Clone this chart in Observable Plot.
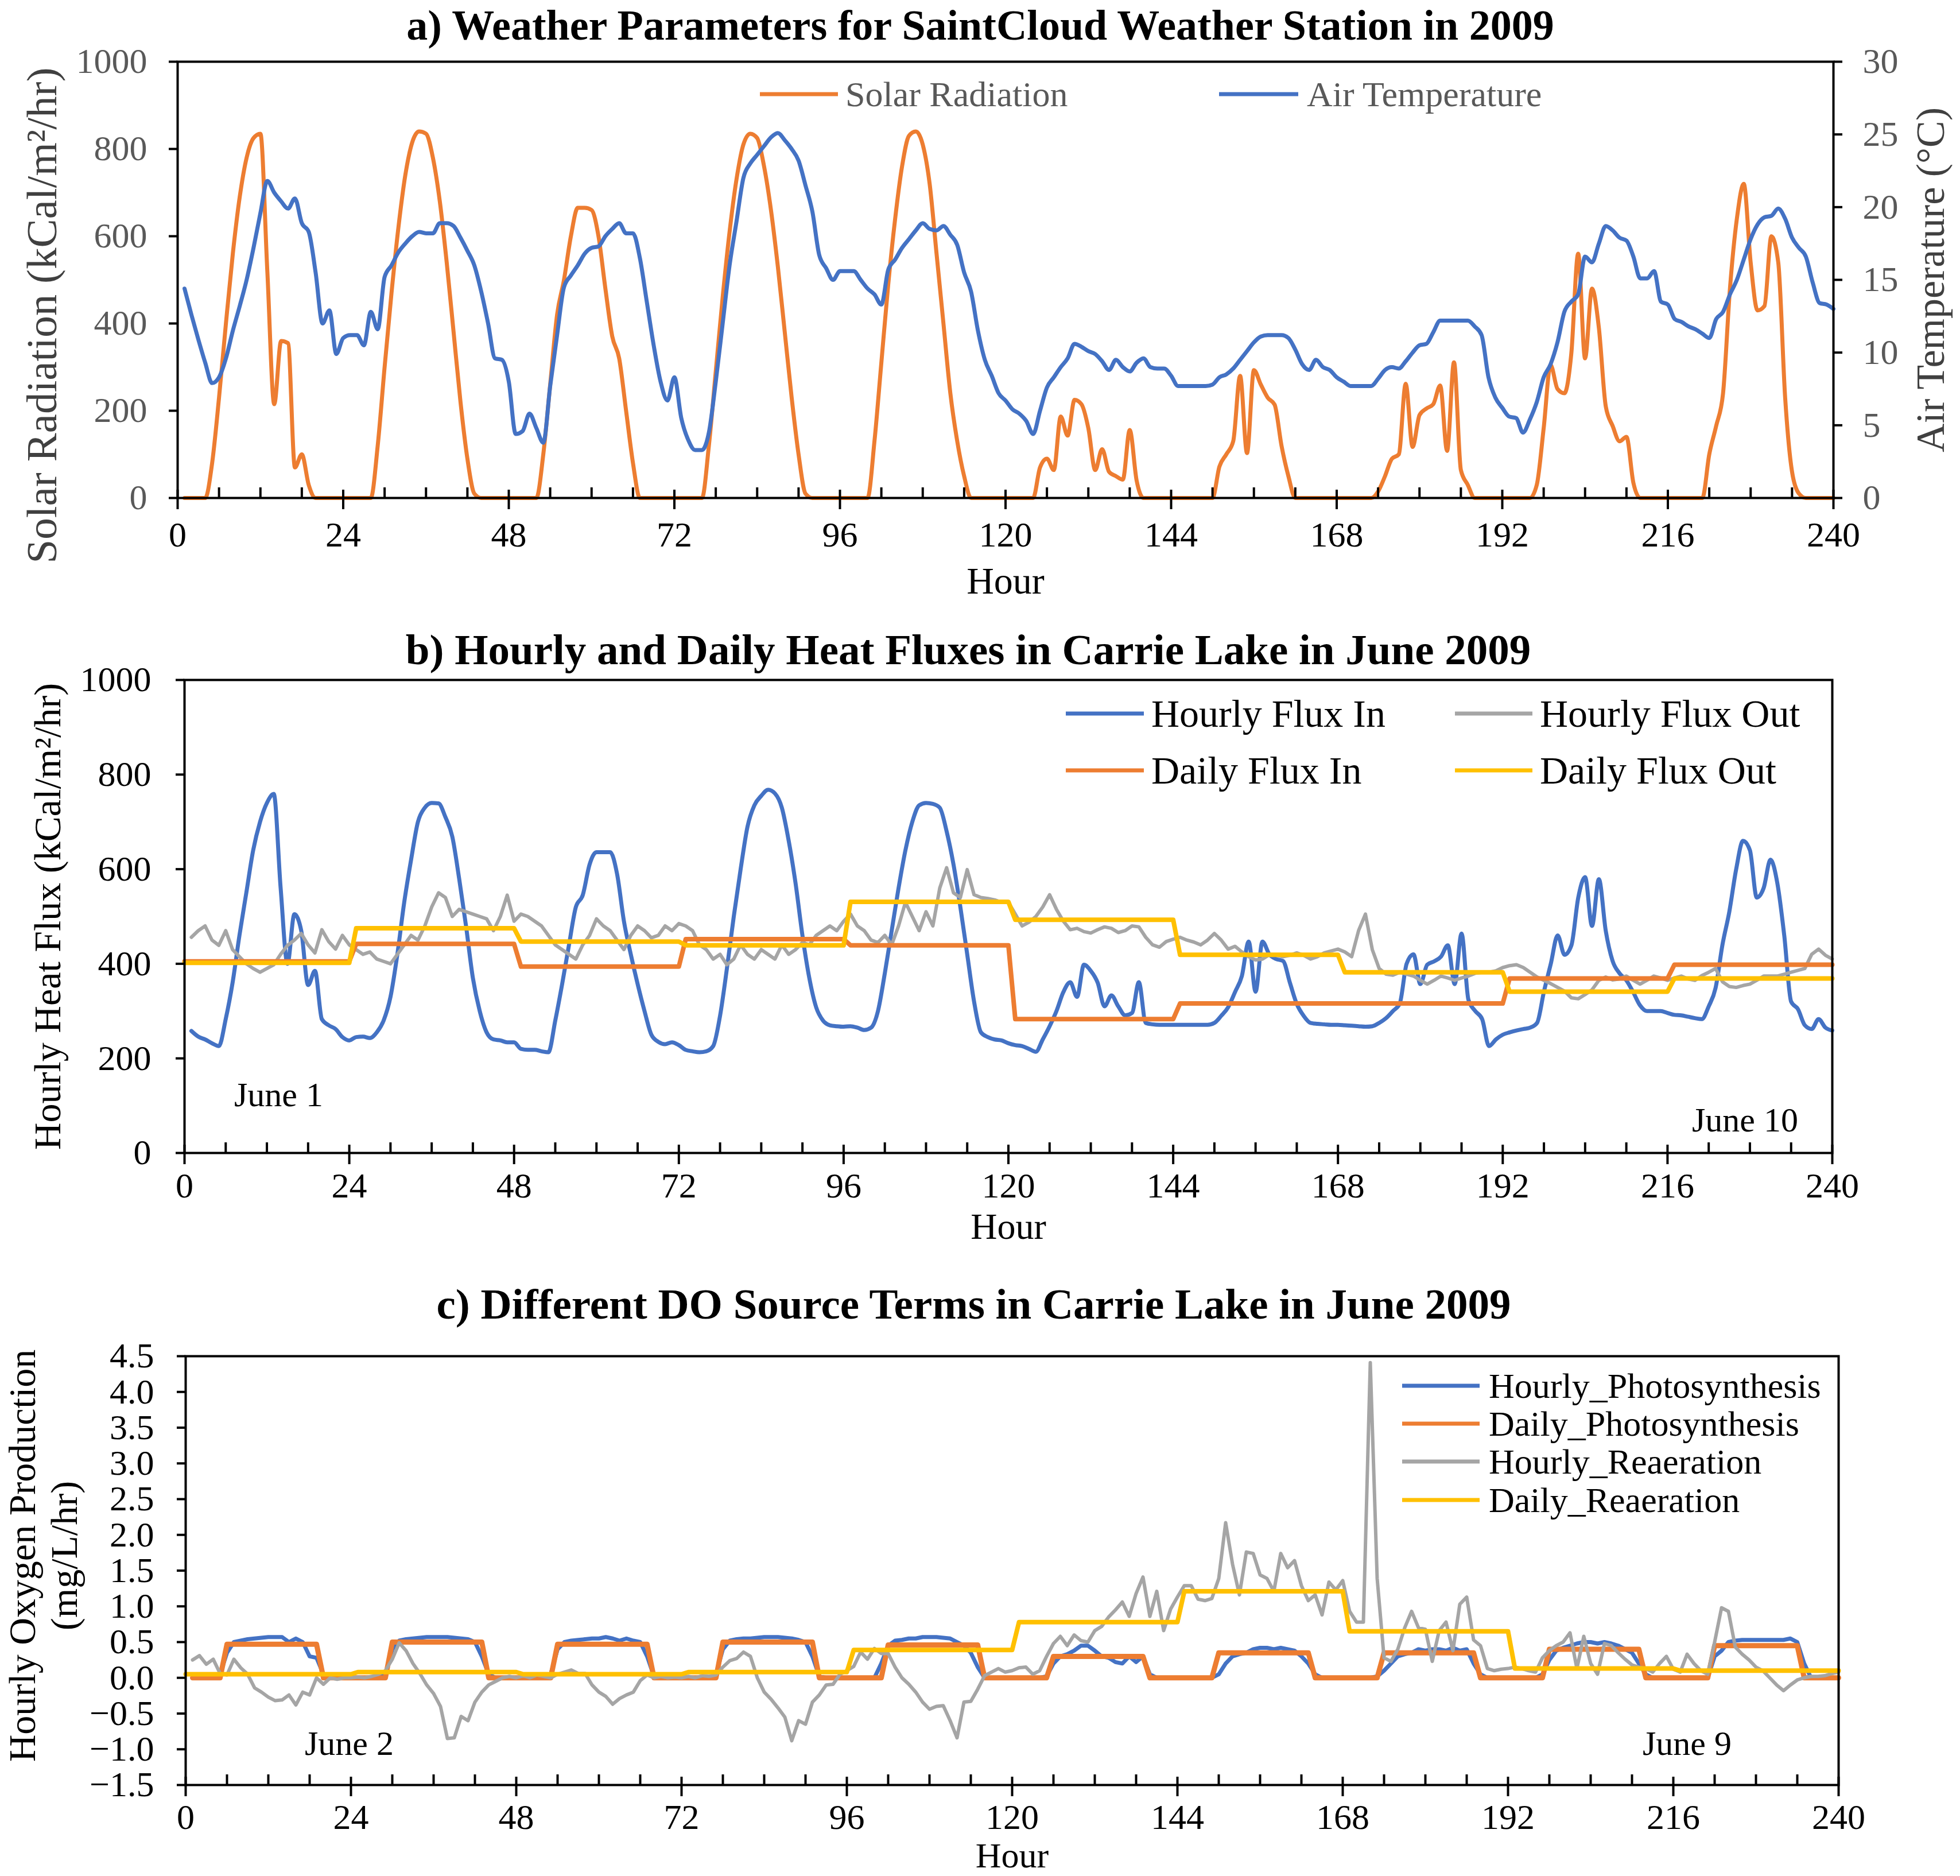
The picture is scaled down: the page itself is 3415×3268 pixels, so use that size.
<!DOCTYPE html>
<html><head><meta charset="utf-8">
<script src="https://cdn.jsdelivr.net/npm/d3@7"></script>
<script src="https://cdn.jsdelivr.net/npm/@observablehq/plot@0.6"></script>
<style>
body{margin:0;background:#fff;}
#root{position:relative;width:3415px;height:3268px;background:#fff;overflow:hidden;font-family:'Liberation Serif','Times New Roman',serif;}
.lbl{position:absolute;white-space:nowrap;line-height:1;transform:translateY(-50%);}
.sw{position:absolute;height:7px;transform:translateY(-50%);}
</style></head><body><div id="root"></div>
<script>
// ---------- DATA ----------
const hours = d3.range(1, 241);
const hourTicks = d3.range(0, 241, 24);
const minorHourTicks = d3.range(0, 241, 6).filter(h => h % 24 !== 0);

// Panel a
const solarTicks = [0, 200, 400, 600, 800, 1000];
const tempTicks = [0, 5, 10, 15, 20, 25, 30];
const solarRadiation = [
0,0,0,0,80,230,400,560,690,780,825,835,520,215,360,355,70,100,30,0,0,0,0,0,
0,0,0,0,120,300,470,620,740,815,840,835,780,680,540,380,220,90,10,0,0,0,0,0,
0,0,0,0,100,260,420,500,600,665,665,660,600,480,370,320,200,80,0,0,0,0,0,0,
0,0,0,0,120,290,460,610,730,810,835,825,760,660,530,380,230,100,10,0,0,0,0,0,
0,0,0,0,130,310,490,640,760,830,840,810,720,560,400,240,130,50,0,0,0,0,0,0,
0,0,0,0,70,90,64,187,143,225,215,160,64,112,60,50,42,156,40,0,0,0,0,0,
0,0,0,0,0,0,72,100,130,280,103,293,260,230,214,120,50,0,0,0,0,0,0,0,
0,0,0,0,0,15,50,90,100,262,117,190,205,215,258,108,311,64,30,0,0,0,0,0,
0,0,0,0,30,160,305,250,240,330,560,320,480,390,210,165,130,140,35,0,0,0,0,0,
0,0,0,0,0,100,165,240,480,640,720,540,430,440,600,540,230,60,10,0,0,0,0,0];
const airTemperature = [
14.4,12.6,10.9,9.3,7.9,8.3,9.6,11.5,13.2,15.0,17.2,19.6,21.8,21.0,20.4,19.9,20.6,18.9,18.3,15.5,12.0,12.9,9.9,11.0,
11.2,11.2,10.5,12.8,11.6,15.2,16.0,16.9,17.5,18.0,18.3,18.2,18.2,18.9,18.9,18.7,17.9,17.0,16.0,14.2,12.0,9.6,9.5,8.0,
4.4,4.6,5.8,4.8,3.8,7.7,11.2,14.5,15.3,16.0,16.8,17.2,17.3,18.0,18.5,18.9,18.2,18.2,16.5,13.5,10.5,8.0,6.7,8.3,
5.5,4.0,3.3,3.3,4.5,8.0,12.0,16.0,19.0,22.0,23.0,23.6,24.2,24.8,25.1,24.6,24.0,23.2,21.5,19.7,16.7,15.8,15.0,15.6,
15.6,15.6,15.0,14.4,14.0,13.3,15.7,16.4,17.2,17.8,18.4,18.9,18.5,18.4,18.7,18.1,17.4,15.5,14.2,11.5,9.5,8.4,7.2,6.7,
6.1,5.8,5.3,4.4,6.0,7.6,8.3,9.0,9.6,10.6,10.4,10.1,9.9,9.4,8.8,9.5,9.0,8.7,9.3,9.6,9.0,8.9,8.9,8.4,
7.7,7.7,7.7,7.7,7.7,7.8,8.3,8.5,8.9,9.5,10.1,10.7,11.1,11.2,11.2,11.2,11.0,10.2,9.2,8.8,9.5,9.0,8.8,8.3,
8.0,7.7,7.7,7.7,7.7,8.2,8.8,9.0,8.9,9.4,10.0,10.5,10.6,11.4,12.2,12.2,12.2,12.2,12.2,11.8,11.2,8.3,6.9,6.2,
5.6,5.5,4.5,5.4,6.6,8.3,9.2,10.7,12.8,13.5,14.0,16.6,16.2,17.5,18.7,18.4,17.9,17.7,16.6,15.1,15.1,15.6,13.5,13.3,
12.3,12.1,11.8,11.6,11.3,11.0,12.3,12.8,14.0,15.0,16.4,17.8,18.8,19.3,19.4,19.9,19.2,17.9,17.2,16.6,14.8,13.4,13.3,13.0];

// Panel b
const fluxTicks = [0, 200, 400, 600, 800, 1000];
const hourlyFluxIn = [
258,246,240,232,226,283,360,460,550,640,700,740,759,560,400,505,470,355,385,283,270,262,245,238,
245,246,243,255,280,330,420,530,620,700,730,740,739,710,669,580,480,370,300,255,240,238,234,234,
220,218,218,215,213,280,357,440,520,545,610,636,636,636,590,490,420,357,300,250,235,230,234,228,
218,215,213,215,226,290,390,500,600,690,735,755,768,760,730,660,570,460,370,308,280,270,268,267,
268,265,260,265,300,380,470,560,640,700,735,740,738,730,680,610,520,420,320,255,245,240,238,232,
228,226,220,214,240,268,300,340,361,330,398,385,360,310,333,310,291,296,361,275,272,271,271,271,
271,271,271,271,271,275,290,308,340,374,447,341,447,420,410,406,360,315,290,275,273,272,271,271,
270,269,268,267,268,275,285,300,316,400,420,357,398,405,415,439,357,464,324,300,283,226,240,250,
255,259,262,265,275,341,400,460,419,439,540,583,480,579,470,406,380,365,340,312,300,300,300,296,
292,291,288,285,283,310,349,440,510,600,660,640,540,560,620,570,460,320,304,270,262,283,265,259];
const hourlyFluxOut = [
456,470,480,450,439,470,430,415,400,390,382,390,398,420,439,450,464,440,423,472,447,431,460,440,
430,420,425,410,405,400,420,440,460,450,480,520,550,540,500,515,510,505,500,495,470,500,545,490,
505,500,490,480,460,440,430,420,410,440,460,495,480,470,450,430,460,480,470,455,460,480,470,485,
480,470,440,430,410,420,398,410,440,420,410,430,420,410,440,420,430,445,440,460,470,480,470,490,
505,480,470,450,445,460,440,480,530,500,470,510,480,560,603,550,540,599,546,540,538,535,530,530,
505,480,488,500,520,546,515,490,472,475,468,465,472,478,475,466,470,480,478,456,440,435,447,452,
456,450,446,440,450,464,450,431,437,425,415,408,410,419,418,415,418,423,418,410,415,423,427,431,
425,415,470,505,430,390,378,376,382,378,374,365,357,365,374,370,365,370,374,380,382,382,385,392,
396,398,392,382,372,365,358,350,342,328,326,335,345,365,372,366,368,374,365,357,365,374,370,365,
370,374,368,365,375,382,390,362,352,350,354,357,365,374,374,374,378,382,386,390,420,431,418,410];
const dailyFluxIn  = [405, 442, 394, 452, 439, 283, 316, 316, 369, 398];
const dailyFluxOut = [402, 475, 447, 439, 531, 493, 419, 382, 341, 369];

// Panel c
const doTicks = d3.range(-3, 10).map(i => i / 2);
const hourlyPhotosynthesis = [
0,0,0,0,0.05,0.35,0.5,0.52,0.54,0.55,0.56,0.57,0.57,0.57,0.5,0.55,0.5,0.3,0.28,0.05,0,0,0,0,
0,0,0,0,0.05,0.4,0.52,0.54,0.55,0.56,0.57,0.57,0.57,0.57,0.56,0.55,0.54,0.5,0.3,0.05,0,0,0,0,
0,0,0,0,0.05,0.4,0.5,0.52,0.53,0.54,0.55,0.55,0.57,0.55,0.52,0.55,0.52,0.5,0.3,0.02,0,0,0,0,
0,0,0,0,0.05,0.4,0.52,0.54,0.55,0.55,0.56,0.57,0.57,0.57,0.56,0.55,0.53,0.5,0.3,0.02,0,0,0,0,
0,0,0,0,0.2,0.45,0.52,0.53,0.55,0.55,0.57,0.57,0.57,0.56,0.55,0.5,0.45,0.35,0.15,0,0,0,0,0,
0,0,0,0,0.02,0.2,0.3,0.33,0.38,0.45,0.45,0.38,0.3,0.28,0.22,0.2,0.3,0.22,0.3,0.05,0,0,0,0,
0,0,0,0,0,0.05,0.2,0.3,0.33,0.35,0.4,0.42,0.42,0.4,0.42,0.4,0.38,0.3,0.2,0.05,0,0,0,0,
0,0,0,0,0.02,0.1,0.2,0.3,0.33,0.35,0.4,0.38,0.4,0.4,0.38,0.42,0.38,0.4,0.2,0.05,0,0,0,0,
0,0,0,0,0.05,0.25,0.38,0.42,0.45,0.48,0.5,0.5,0.48,0.5,0.48,0.45,0.4,0.35,0.2,0.05,0,0,0,0,
0,0,0,0,0,0.3,0.38,0.5,0.52,0.53,0.53,0.53,0.53,0.53,0.53,0.53,0.55,0.5,0.2,0,0,0,0,0];
const hourlyReaeration = [
0.25,0.31,0.19,0.26,0.06,0.04,0.26,0.14,0.05,-0.14,-0.2,-0.27,-0.32,-0.31,-0.24,-0.38,-0.2,-0.24,0,-0.09,0,-0.02,0,0,
0.01,0,0.02,0.05,0.1,0.26,0.49,0.38,0.2,0.06,-0.1,-0.22,-0.4,-0.85,-0.84,-0.54,-0.6,-0.34,-0.2,-0.1,-0.05,0,0.02,0,
0.03,0,0.04,0.02,0,0.05,0.08,0.11,0.06,0.06,-0.1,-0.2,-0.26,-0.37,-0.29,-0.24,-0.2,-0.04,0.04,0,0.02,0,0.01,0,
0.02,0,0.03,0.02,0.04,0.15,0.24,0.27,0.36,0.3,0,-0.2,-0.3,-0.42,-0.55,-0.88,-0.6,-0.65,-0.34,-0.24,-0.1,-0.09,0.05,0.1,
0.16,0.36,0.26,0.41,0.34,0.34,0.15,0,-0.09,-0.2,-0.34,-0.44,-0.4,-0.39,-0.6,-0.84,-0.34,-0.33,-0.16,0.03,0.08,0.13,0.08,0.1,
0.14,0.15,0.05,0.1,0.3,0.48,0.58,0.45,0.6,0.52,0.5,0.66,0.72,0.85,0.95,1.06,0.86,1.18,1.41,0.86,1.21,0.66,0.96,1.13,
1.29,1.29,1.1,1.08,1.11,1.39,2.17,1.59,1.16,1.76,1.74,1.44,1.39,1.21,1.74,1.54,1.64,1.29,1.08,1.16,0.88,1.34,1.23,1.36,
0.93,0.78,0.78,4.41,1.39,0.28,0.23,0.4,0.7,0.93,0.7,0.68,0.23,0.66,0.78,0.38,1.03,1.13,0.53,0.45,0.13,0.1,0.12,0.13,
0.15,0.13,0.1,0.08,0.28,0.38,0.45,0.5,0.63,0.13,0.58,0.2,0.05,0.48,0.45,0.35,0.26,0.18,0.15,0.13,0.08,0.2,0.3,0.12,
0.08,0.33,0.2,0.1,0.05,0.5,0.98,0.93,0.43,0.33,0.25,0.15,0.1,0,-0.1,-0.18,-0.1,-0.03,0,0.02,0.02,0.03,0.06,0.08];
const dailyPhotosynthesis = [0.47, 0.50, 0.47, 0.50, 0.46, 0.30, 0.35, 0.35, 0.40, 0.45];
const photoStartHour = [6, 30, 54, 78, 102, 126, 150, 174, 198, 222];
const photoEndHour   = [19, 43, 67, 91, 115, 139, 163, 187, 211, 234];
const dailyReaeration = [0.05, 0.08, 0.05, 0.08, 0.39, 0.78, 1.21, 0.65, 0.13, 0.10];

// ---------- STYLE ----------
const FONT = "'Liberation Serif','Times New Roman',serif";
const BLUE = "#4472C4", ORANGE = "#ED7D31", GRAY = "#A5A5A5", YELLOW = "#FFC000";
const GRAYTXT = "#595959", DARKTXT = "#404040";
const SOLAR_PER_DEG = 1000 / 30;

function stepTable(values) {
  const rows = [];
  values.forEach((v, d) => { rows.push({h: d === 0 ? 0 : 24 * d + 1, v}); rows.push({h: 24 * d + 24, v}); });
  return rows;
}
function photoTable() {
  const rows = [{h: 1, v: 0}];
  dailyPhotosynthesis.forEach((v, d) => {
    rows.push({h: photoStartHour[d] - 1, v: 0}, {h: photoStartHour[d], v}, {h: photoEndHour[d], v}, {h: photoEndHour[d] + 1, v: 0});
  });
  rows.push({h: 240, v: 0});
  return rows;
}

const root = document.getElementById("root");
function place(el, top) { el.style.position = "absolute"; el.style.left = "0px"; el.style.top = top + "px"; root.appendChild(el); }
function label(x, y, text, size, color) {
  const t = document.createElement("div"); t.className = "lbl";
  t.style.left = x + "px"; t.style.top = y + "px"; t.style.fontSize = size + "px"; t.style.color = color;
  t.textContent = text; root.appendChild(t);
}
function legendItem(x1, x2, y, color, tx, text, size, textColor) {
  const s = document.createElement("div"); s.className = "sw";
  s.style.left = x1 + "px"; s.style.top = y + "px"; s.style.width = (x2 - x1) + "px"; s.style.background = color;
  root.appendChild(s);
  label(tx, y, text, size, textColor);
}
const T = {text: d => d, textAnchor: "middle", lineAnchor: "middle"};

function xAxes(frameH, labelColor, pad) {
  return [
    Plot.tickX(minorHourTicks, {x: d => d, insetTop: frameH - 18, stroke: "#000", strokeWidth: 4}),
    Plot.tickX(hourTicks, {x: d => d, insetTop: frameH - 14, stroke: "#000", strokeWidth: 4}),
    Plot.axisX(hourTicks, {anchor: "bottom", tickSize: 20, tickPadding: pad - 20, stroke: "#000", strokeWidth: 4, fill: labelColor, label: null, tickFormat: d => String(d)})
  ];
}

// ---------- PANEL A ----------
{
  const H = 1090, mt = 107, mb = 223, frameH = H - mt - mb;
  const svg = Plot.plot({
    width: 3415, height: H, marginTop: mt, marginBottom: mb, marginLeft: 309, marginRight: 221,
    x: {domain: [0, 240]}, y: {domain: [0, 1000]},
    style: {fontFamily: FONT, fontSize: "62px", background: "transparent", overflow: "visible"},
    marks: [
      Plot.line(hours, {x: hours, y: solarRadiation, stroke: ORANGE, strokeWidth: 7, curve: "monotone-x"}),
      Plot.line(hours, {x: hours, y: airTemperature.map(t => t * SOLAR_PER_DEG), stroke: BLUE, strokeWidth: 7, curve: "monotone-x"}),
      Plot.frame({stroke: "#000", strokeWidth: 4}),
      ...xAxes(frameH, "#000", 40),
      Plot.axisY(solarTicks, {anchor: "left", tickSize: 15, tickPadding: 38, tickFormat: d => String(d), stroke: "#000", strokeWidth: 4, fill: GRAYTXT, label: null}),
      Plot.axisY(tempTicks.map(t => t * SOLAR_PER_DEG), {anchor: "right", tickSize: 15, tickPadding: 36, tickFormat: v => String(Math.round(v / SOLAR_PER_DEG)), stroke: "#000", strokeWidth: 4, fill: GRAYTXT, label: null}),
      Plot.text(["a) Weather Parameters for SaintCloud Weather Station in 2009"], {...T, frameAnchor: "top", dx: -44, dy: -62, fontSize: 74, fontWeight: "bold", fill: "#000"}),
      Plot.text(["Hour"], {...T, frameAnchor: "bottom", dy: 145, fontSize: 66, fill: "#000"}),
      Plot.text(["Solar Radiation (kCal/m²/hr)"], {...T, frameAnchor: "left", rotate: -90, dx: -236, dy: 62, fontSize: 75, fill: DARKTXT}),
      Plot.text(["Air Temperature (°C)"], {...T, frameAnchor: "right", rotate: -90, dx: 170, fontSize: 70, fill: DARKTXT})
    ]
  });
  place(svg, 0);
}

// ---------- PANEL B ----------
{
  const top = 1090, H = 1100, mt = 94, mb = 182, frameH = H - mt - mb;
  const svg = Plot.plot({
    width: 3415, height: H, marginTop: mt, marginBottom: mb, marginLeft: 321, marginRight: 223,
    x: {domain: [0, 240]}, y: {domain: [0, 1000]},
    style: {fontFamily: FONT, fontSize: "62px", background: "transparent", overflow: "visible"},
    marks: [
      Plot.line(hours, {x: hours, y: hourlyFluxIn, stroke: BLUE, strokeWidth: 7, curve: "monotone-x"}),
      Plot.line(hours, {x: hours, y: hourlyFluxOut, stroke: GRAY, strokeWidth: 6}),
      Plot.line(stepTable(dailyFluxIn), {x: "h", y: "v", stroke: ORANGE, strokeWidth: 8}),
      Plot.line(stepTable(dailyFluxOut), {x: "h", y: "v", stroke: YELLOW, strokeWidth: 8}),
      Plot.frame({stroke: "#000", strokeWidth: 4}),
      ...xAxes(frameH, "#000", 33),
      Plot.axisY(fluxTicks, {anchor: "left", tickSize: 15, tickPadding: 43, tickFormat: d => String(d), stroke: "#000", strokeWidth: 4, fill: "#000", label: null}),
      Plot.text(["b) Hourly and Daily Heat Fluxes in Carrie Lake in June 2009"], {...T, frameAnchor: "top", dx: -70, dy: -52, fontSize: 75, fontWeight: "bold", fill: "#000"}),
      Plot.text(["Hour"], {...T, frameAnchor: "bottom", dy: 129, fontSize: 64, fill: "#000"}),
      Plot.text(["Hourly Heat Flux (kCal/m²/hr)"], {...T, frameAnchor: "left", rotate: -90, dx: -238, fontSize: 66, fill: "#000"})
    ]
  });
  place(svg, top);
}

// ---------- PANEL C ----------
{
  const top = 2190, H = 1078, mt = 172, mb = 159, frameH = H - mt - mb;
  const svg = Plot.plot({
    width: 3415, height: H, marginTop: mt, marginBottom: mb, marginLeft: 323, marginRight: 212,
    x: {domain: [0, 240]}, y: {domain: [-1.5, 4.5]},
    style: {fontFamily: FONT, fontSize: "62px", background: "transparent", overflow: "visible"},
    marks: [
      Plot.line(hours, {x: hours, y: hourlyPhotosynthesis, stroke: BLUE, strokeWidth: 7}),
      Plot.line(photoTable(), {x: "h", y: "v", stroke: ORANGE, strokeWidth: 9}),
      Plot.line(hours, {x: hours, y: hourlyReaeration, stroke: GRAY, strokeWidth: 6}),
      Plot.line(stepTable(dailyReaeration), {x: "h", y: "v", stroke: YELLOW, strokeWidth: 8}),
      Plot.frame({stroke: "#000", strokeWidth: 4}),
      ...xAxes(frameH, "#000", 32),
      Plot.axisY(doTicks, {anchor: "left", tickSize: 15, tickPadding: 40, tickFormat: d3.format(".1f"), stroke: "#000", strokeWidth: 4, fill: "#000", label: null}),
      Plot.text(["c) Different DO Source Terms in Carrie Lake in June 2009"], {...T, frameAnchor: "top", dx: -67, dy: -90, fontSize: 75, fontWeight: "bold", fill: "#000"}),
      Plot.text(["Hour"], {...T, frameAnchor: "bottom", dy: 124, fontSize: 62, fill: "#000"}),
      Plot.text(["Hourly Oxygen Production\n(mg/L/hr)"], {...T, frameAnchor: "left", rotate: -90, dx: -249, dy: -26, fontSize: 66, lineHeight: 1.1, fill: "#000"})
    ]
  });
  place(svg, top);
}

// ---------- LEGENDS & NOTES ----------
legendItem(1324, 1460, 164, ORANGE, 1473, "Solar Radiation", 62, GRAYTXT);
legendItem(2124, 2262, 164, BLUE, 2277, "Air Temperature", 62, GRAYTXT);

legendItem(1857, 1993, 1243, BLUE, 2006, "Hourly Flux In", 68, "#000");
legendItem(2535, 2670, 1243, GRAY, 2683, "Hourly Flux Out", 68, "#000");
legendItem(1857, 1993, 1342, ORANGE, 2006, "Daily Flux In", 68, "#000");
legendItem(2535, 2670, 1342, YELLOW, 2683, "Daily Flux Out", 68, "#000");

legendItem(2443, 2578, 2414, BLUE, 2594, "Hourly_Photosynthesis", 62, "#000");
legendItem(2443, 2578, 2480, ORANGE, 2594, "Daily_Photosynthesis", 62, "#000");
legendItem(2443, 2578, 2546, GRAY, 2594, "Hourly_Reaeration", 62, "#000");
legendItem(2443, 2578, 2613, YELLOW, 2594, "Daily_Reaeration", 62, "#000");

label(408, 1907, "June 1", 60, "#000");
label(2948, 1951, "June 10", 60, "#000");
label(531, 3037, "June 2", 60, "#000");
label(2862, 3037, "June 9", 60, "#000");
</script></body></html>
